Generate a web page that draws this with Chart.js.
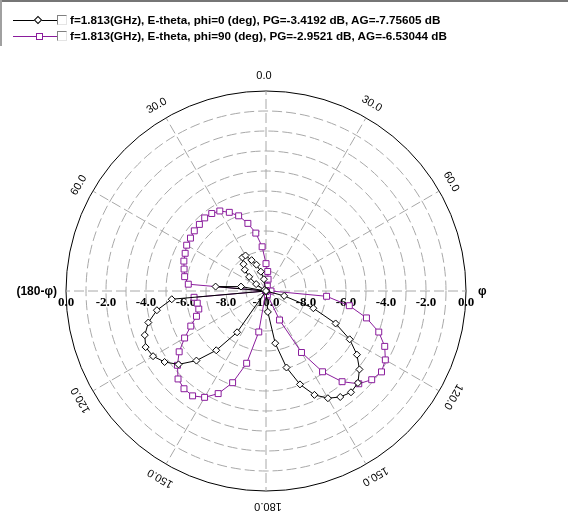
<!DOCTYPE html>
<html>
<head>
<meta charset="utf-8">
<title>Pattern</title>
<script src="https://cdn.jsdelivr.net/npm/chart.js@4.4.1/dist/chart.umd.min.js"></script>
<style>
    html, body { margin: 0; padding: 0; background: #fff; }
    #wrap { position: relative; width: 568px; height: 523px; overflow: hidden; }
    #polar { position: absolute; left: 0; top: 0; }
    .frame-top { position: absolute; left: 0; top: 0; width: 568px; height: 2px; background: #767676; }
    .frame-left { position: absolute; left: 0; top: 0; width: 2px; height: 46px; background: #a0a0a0; }
    .leg-row { position: absolute; left: 0; width: 560px; height: 16px; font: bold 11.7px "Liberation Sans", Arial, sans-serif; color: #000; white-space: nowrap; }
    .leg-line { position: absolute; left: 13px; width: 44px; top: 8px; height: 0; border-top: 1px solid #000; }
    .leg-mark { position: absolute; box-sizing: border-box; background: #fff; }
    .leg-box { position: absolute; left: 57px; top: 3px; width: 10px; height: 10px; box-sizing: border-box;
               border-top: 1px solid #808080; border-left: 1px solid #808080;
               border-right: 1px solid #e4e4e4; border-bottom: 1px solid #e4e4e4; background: #fff; }
    .leg-text { position: absolute; left: 70px; top: 0; line-height: 16px; }
</style>
</head>
<body>
<div id="wrap">
    <canvas id="polar" width="568" height="523"></canvas>
    <div class="frame-top"></div>
    <div class="frame-left"></div>
    <div id="legend"></div>
</div>
<script>
// theta (deg) measured from the top, same list for both halves of the cut
const thetaDeg = [0, 5, 10, 15, 20, 25, 30, 35, 40, 45, 50, 55, 60, 65, 70, 75, 80, 85, 90,
                  95, 100, 105, 110, 115, 120, 125, 130, 135, 140, 145, 150, 155, 160, 165, 170, 175, 180];

// phi = 0 cut (dB), right half = phi, left half = 180-phi. -10 sits on the centre
const phi0Right = [-10, -10, -10, -10, -10, -10, -10, -10, -10, -10, -10, -10, -10, -10, -10, -10, -10, -10, -10,
                   -10, -10, -9.06, -7.48, -6.16, -5.17, -4.45, -3.9, -3.5, -3.39, -3.53, -3.81, -4.27, -5.03, -6.04, -7.35, -8.95, -10];
const phi0Left = [-10, -10, -9.4, -9.0, -8.6, -8.3, -7.95, -7.95, -8.25, -8.5, -8.9, -9.4, -9.9, -10, -10, -10, -8.73, -7.47, -10,
                  -5.27, -4.46, -3.91, -3.55, -3.36, -3.48, -3.81, -4.29, -5.08, -6.13, -7.48, -10, -10, -10, -10, -10, -10, -10];

// phi = 90 cut (dB)
const phi90Right = [-8.63, -9.02, -9.4, -9.75, -10, -10, -10, -10, -10, -10, -10, -10, -10, -10, -10, -10, -10, -10, -9.75,
                    -6.96, -5.77, -4.8, -4.0, -3.45, -3.11, -2.95, -3.1, -3.44, -4.08, -5.07, -6.45, -8.4, -9.8, -10, -10, -10, -10];
const phi90Left = [-8.63, -7.78, -7.06, -6.5, -6.0, -5.66, -5.38, -5.27, -5.23, -5.29, -5.32, -5.39, -5.42, -5.54, -5.63, -5.76, -5.87, -6.1, -10,
                   -6.39, -6.51, -6.52, -6.3, -5.85, -5.3, -4.7, -4.22, -3.78, -3.62, -3.6, -3.86, -4.34, -5.12, -6.26, -7.92, -10, -10];

const dbTicks = [0, -2, -4, -6, -8, -10];
const angleTicks = [0, 30, 60, 120, 150, 180];

const seriesNames = [
    'f=1.813(GHz), E-theta, phi=0 (deg), PG=-3.4192 dB, AG=-7.75605 dB',
    'f=1.813(GHz), E-theta, phi=90 (deg), PG=-2.9521 dB, AG=-6.53044 dB'
];
const seriesColors = ['#000000', '#8a1c9c'];

// walk clockwise: phi half from 0 to 180, then the 180-phi half back up to 5
function ring(right, left) {
    return right.concat(left.slice(1, -1).reverse());
}

const ringLabels = ring(thetaDeg, thetaDeg);

// Angle labels, dB labels and the two half-axis captions
const polarText = {
    id: 'polarText',
    beforeDatasetsDraw(chart) {
        const s = chart.scales.r;
        const c = chart.ctx;
        const cx = s.xCenter;
        const cy = s.yCenter;
        c.save();
        c.fillStyle = '#000';
        c.textBaseline = 'middle';

        c.textAlign = 'center';
        c.font = 'bold 13px "Liberation Serif", "Times New Roman", serif';
        dbTicks.forEach(v => {
            const d = s.getDistanceFromCenterForValue(v);
            const txt = v.toFixed(1);
            c.fillText(txt, cx - d, cy + 12);
            if (d > 0) c.fillText(txt, cx + d, cy + 12);
        });

        c.font = 'bold 12px "Liberation Sans", Arial, sans-serif';
        c.textAlign = 'left';
        c.fillText('\u03c6', cx + s.drawingArea + 12, cy + 1);
        c.textAlign = 'right';
        c.fillText('(180-\u03c6)', cx - s.drawingArea - 9, cy + 1);

        c.font = '11px "Liberation Sans", Arial, sans-serif';
        c.textAlign = 'center';
        const step = 360 / chart.data.labels.length;
        angleTicks.forEach(a => {
            const sides = (a === 0 || a === 180) ? [1] : [1, -1];
            sides.forEach(sgn => {
                const idx = sgn > 0 ? a / step : (360 - a) / step;
                const p = s.getPointPosition(idx, s.drawingArea + 15);
                c.save();
                c.translate(p.x, p.y);
                c.rotate(sgn * a * Math.PI / 180);
                c.fillText(a.toFixed(1), -2, 0);
                c.restore();
            });
        });
        c.restore();
    }
};

const ctx = document.getElementById('polar').getContext('2d');
const patternChart = new Chart(ctx, {
    type: 'radar',
    data: {
        labels: ringLabels,
        datasets: [{
            label: seriesNames[0],
            data: ring(phi0Right, phi0Left),
            borderColor: seriesColors[0],
            borderWidth: 1,
            fill: false,
            tension: 0,
            pointStyle: 'rectRot',
            pointRadius: 3.5,
            pointBorderWidth: 1,
            pointBorderColor: seriesColors[0],
            pointBackgroundColor: '#fff'
        }, {
            label: seriesNames[1],
            data: ring(phi90Right, phi90Left),
            borderColor: seriesColors[1],
            borderWidth: 1,
            fill: false,
            tension: 0,
            pointStyle: 'rect',
            pointRadius: 4.2,
            pointBorderWidth: 1,
            pointBorderColor: seriesColors[1],
            pointBackgroundColor: '#fff'
        }]
    },
    options: {
        responsive: false,
        animation: false,
        layout: { padding: { left: 66, top: 91, right: 102, bottom: 32 } },
        plugins: {
            legend: { display: false },
            tooltip: { enabled: false }
        },
        scales: {
            r: {
                min: -10,
                max: 0,
                ticks: { display: false, stepSize: 1 },
                pointLabels: { display: false },
                grid: {
                    circular: true,
                    lineWidth: 1,
                    color: c => (c.tick && c.tick.value === 0) ? '#000' : '#a8a8a8'
                },
                border: {
                    dash: c => (c.tick && c.tick.value === 0) ? [] : [10, 4]
                },
                angleLines: {
                    color: '#a8a8a8',
                    lineWidth: c => c.index % 6 === 0 ? 1 : 0,
                    borderDash: [10, 4]
                }
            }
        }
    },
    plugins: [polarText]
});

// Legend rows: line with marker, check box, text
function buildLegend() {
    const holder = document.getElementById('legend');
    seriesNames.forEach((name, i) => {
        const row = document.createElement('div');
        row.className = 'leg-row';
        row.style.top = (12 + i * 16) + 'px';

        const line = document.createElement('div');
        line.className = 'leg-line';
        line.style.borderTopColor = seriesColors[i];
        row.appendChild(line);

        const mark = document.createElement('div');
        mark.className = 'leg-mark';
        mark.style.border = '1px solid ' + seriesColors[i];
        if (i === 0) {
            mark.style.left = '35px'; mark.style.top = '5px';
            mark.style.width = '6px'; mark.style.height = '6px';
            mark.style.transform = 'rotate(45deg)';
        } else {
            mark.style.left = '36px'; mark.style.top = '5px';
            mark.style.width = '7px'; mark.style.height = '7px';
        }
        row.appendChild(mark);

        const box = document.createElement('div');
        box.className = 'leg-box';
        row.appendChild(box);

        const txt = document.createElement('span');
        txt.className = 'leg-text';
        txt.textContent = name;
        row.appendChild(txt);

        holder.appendChild(row);
    });
}

buildLegend();
</script>
</body>
</html>
